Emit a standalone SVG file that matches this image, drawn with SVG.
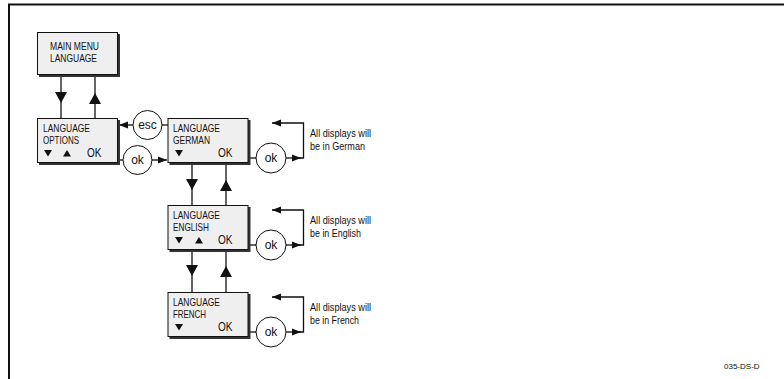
<svg xmlns="http://www.w3.org/2000/svg" width="784" height="379" viewBox="0 0 784 379">
<style>
.box{fill:#efefef;stroke:#111;stroke-width:1}
.sh{fill:#333}
.t{font-family:"Liberation Sans",Arial,sans-serif;font-size:11px;fill:#111}
.k{font-family:"Liberation Sans",Arial,sans-serif;font-size:12px;fill:#111}
.n{font-family:"Liberation Sans",Arial,sans-serif;font-size:10.5px;fill:#111}
.c{fill:#fff;stroke:#111;stroke-width:1}
.ct{font-family:"Liberation Sans",Arial,sans-serif;font-size:12px;fill:#111;text-anchor:middle}
.ln{fill:none;stroke:#111;stroke-width:1.3}
.ah{fill:#111}
</style>
<defs>
<marker id="mh" markerWidth="10" markerHeight="8" refX="9" refY="4" orient="auto" markerUnits="userSpaceOnUse"><path d="M0,0.5 L9,4 L0,7.5 Z" fill="#111"/></marker>
<path id="dn" d="M-6,0 L6,0 L0,11 Z"/>
<path id="up" d="M-6,11 L6,11 L0,0 Z"/>
<path id="td" d="M0,0 H8 L4,6.5 Z"/>
<path id="tu" d="M0,6.5 H8 L4,0 Z"/>
</defs>
<rect width="784" height="379" fill="#fff"/>
<g id="frame"><path d="M9,379 V4.5 H784" fill="none" stroke="#111" stroke-width="2"/></g>

<g id="connectors">
<line class="ln" x1="61" y1="76" x2="61" y2="118"/>
<use href="#dn" x="61" y="92" class="ah"/>
<line class="ln" x1="95" y1="76" x2="95" y2="118"/>
<use href="#up" x="95" y="93" class="ah"/>
<line class="ln" x1="133" y1="125" x2="119" y2="125" marker-end="url(#mh)"/>
<line class="ln" x1="162" y1="125" x2="168" y2="125"/>
<line class="ln" x1="119" y1="160" x2="123" y2="160"/>
<line class="ln" x1="152" y1="160" x2="167" y2="160" marker-end="url(#mh)"/>
<line class="ln" x1="192" y1="164" x2="192" y2="205"/>
<use href="#dn" x="192" y="179" class="ah"/>
<line class="ln" x1="226" y1="164" x2="226" y2="205"/>
<use href="#up" x="226" y="180" class="ah"/>
<line class="ln" x1="192" y1="251" x2="192" y2="292"/>
<use href="#dn" x="192" y="265" class="ah"/>
<line class="ln" x1="226" y1="251" x2="226" y2="292"/>
<use href="#up" x="226" y="266" class="ah"/>
<line class="ln" x1="249" y1="158" x2="256" y2="158"/>
<line class="ln" x1="286" y1="158" x2="301" y2="158" marker-end="url(#mh)"/>
<path class="ln" d="M294,158 H303.5 V123 H272" marker-end="url(#mh)"/>
<line class="ln" x1="249" y1="245" x2="256" y2="245"/>
<line class="ln" x1="286" y1="245" x2="301" y2="245" marker-end="url(#mh)"/>
<path class="ln" d="M294,245 H303.5 V210 H272" marker-end="url(#mh)"/>
<line class="ln" x1="249" y1="332" x2="256" y2="332"/>
<line class="ln" x1="286" y1="332" x2="301" y2="332" marker-end="url(#mh)"/>
<path class="ln" d="M294,332 H303.5 V297 H272" marker-end="url(#mh)"/>
</g>

<g id="main-menu">
<rect class="sh" x="39" y="34" width="81" height="43"/>
<rect class="box" x="37.5" y="32.5" width="80" height="42"/>
<text class="t" x="50" y="50" textLength="49" lengthAdjust="spacingAndGlyphs">MAIN MENU</text>
<text class="t" x="50" y="62" textLength="47" lengthAdjust="spacingAndGlyphs">LANGUAGE</text>
</g>

<g id="options">
<rect class="sh" x="39" y="120" width="81" height="45"/>
<rect class="box" x="37.5" y="118.5" width="80" height="44"/>
<text class="t" x="43" y="132" textLength="47" lengthAdjust="spacingAndGlyphs">LANGUAGE</text>
<text class="t" x="43" y="143.5" textLength="36" lengthAdjust="spacingAndGlyphs">OPTIONS</text>
<use href="#td" x="44" y="150" class="ah"/>
<use href="#tu" x="63" y="150" class="ah"/>
<text class="k" x="87" y="157" textLength="14.5" lengthAdjust="spacingAndGlyphs">OK</text>
</g>

<g id="esc"><circle class="c" cx="147.5" cy="125" r="14.5"/><text class="ct" x="147.5" y="129">esc</text></g>
<g id="ok1"><circle class="c" cx="137.5" cy="160" r="14.5"/><text class="ct" x="137.5" y="164">ok</text></g>

<g id="german">
<rect class="sh" x="169.5" y="120" width="81" height="45"/>
<rect class="box" x="168" y="118.5" width="80" height="44"/>
<text class="t" x="173" y="132" textLength="47" lengthAdjust="spacingAndGlyphs">LANGUAGE</text>
<text class="t" x="173" y="143.5" textLength="37" lengthAdjust="spacingAndGlyphs">GERMAN</text>
<use href="#td" x="175" y="150" class="ah"/>
<text class="k" x="218" y="157" textLength="14.5" lengthAdjust="spacingAndGlyphs">OK</text>
</g>
<g id="ok-german"><circle class="c" cx="271" cy="158" r="15"/><text class="ct" x="271" y="162">ok</text></g>
<g id="note-german"><text class="n" x="310" y="137" textLength="61" lengthAdjust="spacingAndGlyphs">All displays will</text><text class="n" x="310" y="149.5" textLength="55" lengthAdjust="spacingAndGlyphs">be in German</text></g>

<g id="english">
<rect class="sh" x="169.5" y="207" width="81" height="45"/>
<rect class="box" x="168" y="205.5" width="80" height="44"/>
<text class="t" x="173" y="219" textLength="47" lengthAdjust="spacingAndGlyphs">LANGUAGE</text>
<text class="t" x="173" y="230.5" textLength="36" lengthAdjust="spacingAndGlyphs">ENGLISH</text>
<use href="#td" x="175" y="237" class="ah"/>
<use href="#tu" x="195" y="237" class="ah"/>
<text class="k" x="218" y="244" textLength="14.5" lengthAdjust="spacingAndGlyphs">OK</text>
</g>
<g id="ok-english"><circle class="c" cx="271" cy="245" r="15"/><text class="ct" x="271" y="249">ok</text></g>
<g id="note-english"><text class="n" x="310" y="224" textLength="61" lengthAdjust="spacingAndGlyphs">All displays will</text><text class="n" x="310" y="236.5" textLength="51" lengthAdjust="spacingAndGlyphs">be in English</text></g>

<g id="french">
<rect class="sh" x="169.5" y="294" width="81" height="45"/>
<rect class="box" x="168" y="292.5" width="80" height="44"/>
<text class="t" x="173" y="306" textLength="47" lengthAdjust="spacingAndGlyphs">LANGUAGE</text>
<text class="t" x="173" y="317.5" textLength="33" lengthAdjust="spacingAndGlyphs">FRENCH</text>
<use href="#td" x="175" y="324" class="ah"/>
<text class="k" x="218" y="331" textLength="14.5" lengthAdjust="spacingAndGlyphs">OK</text>
</g>
<g id="ok-french"><circle class="c" cx="271" cy="332" r="15"/><text class="ct" x="271" y="336">ok</text></g>
<g id="note-french"><text class="n" x="310" y="311" textLength="61" lengthAdjust="spacingAndGlyphs">All displays will</text><text class="n" x="310" y="323.5" textLength="49" lengthAdjust="spacingAndGlyphs">be in French</text></g>

<text x="724" y="369" font-family="Liberation Sans,Arial,sans-serif" font-size="8px" fill="#111">035-DS-D</text>
</svg>
